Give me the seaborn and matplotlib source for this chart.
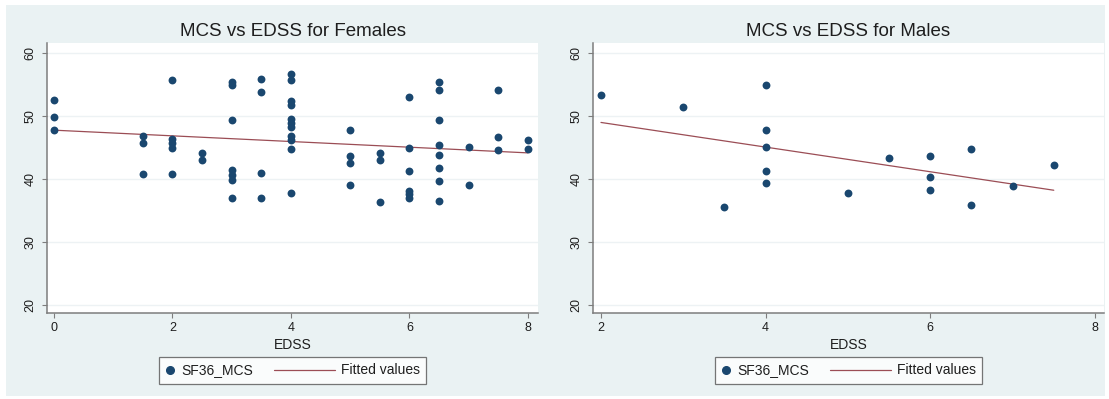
import numpy as np
import pandas as pd
import matplotlib
matplotlib.use("Agg")
import matplotlib.pyplot as plt
import seaborn as sns
from matplotlib.lines import Line2D
from matplotlib.patches import Rectangle
from matplotlib.legend_handler import HandlerLine2D

# ---------------- data ----------------
fem_edss = [0, 0, 0,
            1.5, 1.5, 1.5,
            2, 2, 2, 2, 2,
            2.5, 2.5,
            3, 3, 3, 3, 3, 3, 3,
            3.5, 3.5, 3.5, 3.5,
            4, 4, 4, 4, 4, 4, 4, 4, 4, 4, 4,
            5, 5, 5, 5,
            5.5, 5.5, 5.5,
            6, 6, 6, 6, 6, 6,
            6.5, 6.5, 6.5, 6.5, 6.5, 6.5, 6.5, 6.5,
            7, 7,
            7.5, 7.5, 7.5,
            8, 8]
fem_mcs = [52.5, 49.8, 47.7,
           46.9, 45.7, 40.8,
           55.7, 46.4, 45.7, 44.9, 40.8,
           44.2, 43.0,
           55.4, 55.0, 49.4, 41.5, 40.6, 39.8, 37.0,
           55.9, 53.8, 41.0, 36.9,
           56.7, 55.8, 52.4, 51.8, 49.5, 48.9, 48.3, 46.8, 46.2, 44.8, 37.7,
           47.8, 43.7, 42.6, 39.0,
           44.1, 43.0, 36.3,
           53.0, 44.9, 41.3, 38.1, 37.6, 37.0,
           55.4, 54.2, 49.4, 45.4, 43.8, 41.8, 39.6, 36.5,
           45.0, 39.0,
           54.1, 46.6, 44.6,
           46.2, 44.7]

male_edss = [2, 3, 3.5, 4, 4, 4, 4, 4, 5, 5.5, 6, 6, 6, 6.5, 6.5, 7, 7.5]
male_mcs = [53.4, 51.4, 35.5, 55.0, 47.7, 45.0, 41.2, 39.4, 37.8, 43.4,
            43.7, 40.3, 38.2, 44.7, 35.9, 38.9, 42.2]

titles = ["MCS vs EDSS for Females", "MCS vs EDSS for Males"]
y_ticks = [20, 30, 40, 50, 60]
x_ticks_f = [0, 2, 4, 6, 8]
x_ticks_m = [2, 4, 6, 8]
legend_labels = ["SF36_MCS", "Fitted values"]
x_label = "EDSS"

# ---------------- style ----------------
sns.set_theme(style="white")
plt.rcParams["font.family"] = ["Liberation Sans", "DejaVu Sans"]

NAVY = "#1a476f"
MAROON = "#9b4d55"
BG = "#eaf2f3"
AXC = "#7d7d7d"
TXT = "#1e1e1e"

W, H = 1109, 399
fig = plt.figure(figsize=(W / 100, H / 100), dpi=100)
fig.patch.set_facecolor("white")
fig.add_artist(Rectangle((6 / W, 1 - 396 / H), (1105 - 6) / W, (396 - 5) / H,
                         transform=fig.transFigure, fc=BG, ec="none", zorder=0))

ax1 = fig.add_axes([47 / W, 1 - 313 / H, 491 / W, 270 / H])
ax2 = fig.add_axes([593 / W, 1 - 313 / H, 511 / W, 270 / H])


class LongLine(HandlerLine2D):
    def create_artists(self, legend, orig_handle, xdescent, ydescent, width,
                       height, fontsize, trans):
        extra = 3.7 * fontsize
        y = (height - ydescent) / 2
        ln = Line2D([-xdescent - extra, width - xdescent], [y, y],
                    color=orig_handle.get_color(),
                    linewidth=orig_handle.get_linewidth())
        ln.set_transform(trans)
        return [ln]


panels = [
    (ax1, fem_edss, fem_mcs, titles[0], x_ticks_f, (-0.118, 8.17)),
    (ax2, male_edss, male_mcs, titles[1], x_ticks_m, (1.903, 8.11)),
]

for ax, xs, ys, title, xt, xlim in panels:
    df = pd.DataFrame({"EDSS": xs, "MCS": ys})
    ax.set_facecolor("white")
    ax.set_axisbelow(True)
    ax.yaxis.grid(True, color="#edf2f4", linewidth=1.0)
    ax.xaxis.grid(False)
    sns.regplot(data=df, x="EDSS", y="MCS", ax=ax, scatter=False, ci=None,
                truncate=True, line_kws=dict(color=MAROON, linewidth=0.9, zorder=2))
    sns.scatterplot(data=df, x="EDSS", y="MCS", ax=ax, color=NAVY, s=32,
                    linewidth=0, zorder=3, legend=False)
    ax.set_xlim(*xlim)
    ax.set_ylim(18.7, 61.6)
    ax.set_xticks(xt)
    ax.set_xticklabels([str(v) for v in xt], fontsize=9, color=TXT)
    ax.set_yticks(y_ticks)
    ax.set_yticklabels([str(v) for v in y_ticks], fontsize=9, color=TXT,
                       rotation=90, va="center")
    ax.tick_params(axis="both", direction="out", length=3.5, width=0.8,
                   color=AXC, left=True, bottom=True)
    ax.tick_params(axis="x", pad=3)
    ax.tick_params(axis="y", pad=4)
    for s in ["top", "right"]:
        ax.spines[s].set_visible(False)
    for s in ["left", "bottom"]:
        ax.spines[s].set_color(AXC)
        ax.spines[s].set_linewidth(1.1)
    ax.set_xlabel(x_label, fontsize=10, color=TXT, labelpad=3)
    ax.set_ylabel("")
    ax.set_title(title, fontsize=13.5, color=TXT, pad=5)

    h_pt = Line2D([], [], marker="o", linestyle="", color=NAVY, markersize=5.5)
    h_ln = Line2D([], [], color=MAROON, linewidth=0.9)
    leg = ax.legend([h_pt, h_ln], legend_labels, loc="center",
                    bbox_to_anchor=(0.5, (313 - 370.5) / 270), ncol=2,
                    fontsize=10, frameon=True, fancybox=False,
                    handlelength=0.7, handletextpad=0.45, columnspacing=5.2,
                    borderpad=0.45, handler_map={h_ln: LongLine()})
    leg.get_frame().set_edgecolor("#555555")
    leg.get_frame().set_linewidth(0.9)
    leg.get_frame().set_facecolor("white")
    for t in leg.get_texts():
        t.set_color(TXT)

fig.savefig("out.png", dpi=100, facecolor=fig.get_facecolor())
